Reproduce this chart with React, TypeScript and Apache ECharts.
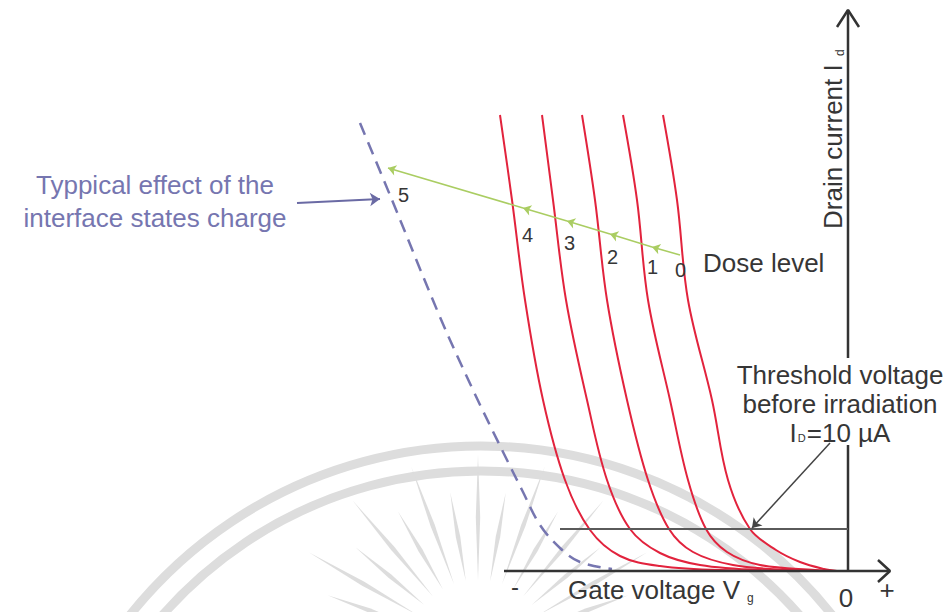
import React, { useEffect, useRef } from "react";
import * as echarts from "echarts";

// Gate voltage in dose-step units (0 at the drain-current axis), drain current in arbitrary units.
const doseLevels = ["0", "1", "2", "3", "4"];

const curveDose0: [number, number][] = [
  [-4.625, 45.6], [-4.275, 37.1], [-4.0, 27.1], [-3.4, 17.1], [-3.0, 9.1],
  [-2.45, 4.2], [-1.8, 2.1], [-1.2, 0.9], [-0.6, 0.2], [-0.275, 0],
];
const curveDose1: [number, number][] = [
  [-5.625, 45.6], [-5.275, 37.1], [-5.0, 27.1], [-4.45, 17.1], [-4.0, 9.1],
  [-3.55, 4.2], [-3.025, 1.9], [-2.2, 0.6], [-0.825, 0.1], [-0.275, 0],
];
const curveDose2: [number, number][] = [
  [-6.65, 45.6], [-6.325, 37.1], [-6.025, 27.1], [-5.525, 17.1], [-5.0, 9.1],
  [-4.475, 4.2], [-3.875, 1.9], [-2.875, 0.6], [-1.45, 0.1], [-0.275, 0],
];
const curveDose3: [number, number][] = [
  [-7.65, 45.6], [-7.375, 37.1], [-7.05, 27.1], [-6.525, 17.1], [-6.025, 9.1],
  [-5.45, 4.2], [-4.7, 1.8], [-3.7, 0.6], [-2.2, 0.1], [-0.275, 0],
];
const curveDose4: [number, number][] = [
  [-8.7, 45.6], [-8.4, 37.1], [-8.075, 27.1], [-7.625, 17.1], [-7.075, 9.1],
  [-6.45, 4.1], [-5.7, 1.5], [-4.7, 0.5], [-3.2, 0.1], [-0.275, 0],
];
const doseCurves = [curveDose0, curveDose1, curveDose2, curveDose3, curveDose4];

// Curve shifted by the interface-states charge (dose level 5)
const interfaceCurve: [number, number][] = [
  [-12.2, 44.8], [-11.4, 37.1], [-10.2, 25.4], [-9.375, 18.1], [-8.525, 11.1],
  [-8.15, 8.1], [-7.7, 4.6], [-7.2, 2.3], [-6.7, 0.9], [-5.9, 0.2],
];

// Dose-level arrow path, from curve 0 to curve 5
const doseArrowPath: [number, number][] = [
  [-4.2, 31.6], [-4.9, 32.4], [-5.95, 33.7], [-7.025, 35.0], [-8.125, 36.3], [-11.5, 40.3],
];

// Threshold current level and its pointer
const thresholdCurrent = 4.2;
const thresholdLineStart = -7.2;
const thresholdPointer: [number, number][] = [[-0.45, 12.8], [-2.4, 4.3]];
const interfacePointer: [number, number][] = [[-13.775, 36.8], [-11.7, 37.2]];

// Axis extents
const xAxisStart = -8.6;
const xAxisEnd = 1.05;
const yAxisEnd = 56.1;
const yAxisGap: [number, number] = [12.6, 21.3];

const FONT = "Liberation Sans";
const TEXT = "#363636";
const RED = "#e2233d";
const SLATE = "#7676b0";
const GREEN = "#aacd62";
const AXIS = "#333333";
const STAMP = "#dddddd";

function buildOption(): echarts.EChartsCoreOption {
  const curveSeries = doseCurves.map((data, i) => ({
    type: "line",
    name: "Dose " + doseLevels[i],
    data,
    smooth: 0.35,
    showSymbol: false,
    lineStyle: { color: RED, width: 2 },
    z: 3,
  }));

  const plain = (data: [number, number][], color: string, width: number, z = 4) => ({
    type: "line",
    data,
    showSymbol: false,
    lineStyle: { color, width },
    z,
  });

  const doseArrows = doseArrowPath.slice(0, -1).map((p, i) => ({
    coords: [p, doseArrowPath[i + 1]],
  }));

  // sunburst rays of the background stamp: thin spindles around a centre below the page
  const rays: any[] = [];
  const rc = { x: 478, y: 650 };
  let k = 0;
  for (let a = 190; a <= 350; a += 10, k++) {
    const rad = (a * Math.PI) / 180;
    const r1 = 70;
    const r2 = k % 2 === 0 ? 195 : 160;
    const rm = (r1 + r2) / 2;
    const nx = -Math.sin(rad);
    const ny = Math.cos(rad);
    const half = 2.2;
    rays.push({
      type: "polygon",
      silent: true,
      z: -10,
      shape: {
        points: [
          [rc.x + r1 * Math.cos(rad), rc.y + r1 * Math.sin(rad)],
          [rc.x + rm * Math.cos(rad) + half * nx, rc.y + rm * Math.sin(rad) + half * ny],
          [rc.x + r2 * Math.cos(rad), rc.y + r2 * Math.sin(rad)],
          [rc.x + rm * Math.cos(rad) - half * nx, rc.y + rm * Math.sin(rad) - half * ny],
        ],
      },
      style: { fill: STAMP },
    });
  }

  const txt = (
    x: number,
    y: number,
    text: string,
    opts: { size?: number; color?: string; align?: string; rotation?: number } = {}
  ) => ({
    type: "text",
    x,
    y,
    rotation: opts.rotation ?? 0,
    z: 20,
    style: {
      text,
      fontSize: opts.size ?? 26,
      fontFamily: FONT,
      fill: opts.color ?? TEXT,
      align: opts.align ?? "left",
      verticalAlign: "middle",
      textAlign: opts.align ?? "left",
      textVerticalAlign: "middle",
    },
  });

  const arc = (r: number) => ({
    type: "arc",
    silent: true,
    z: -10,
    shape: { cx: 481, cy: 895, r, startAngle: (200 * Math.PI) / 180, endAngle: (345 * Math.PI) / 180 },
    style: { stroke: STAMP, lineWidth: 9, fill: null },
  });

  return {
    animation: false,
    backgroundColor: "#ffffff",
    grid: { left: 0, right: 0, top: 0, bottom: 0, containLabel: false },
    xAxis: { type: "value", min: -21.2, max: 2.45, show: false },
    yAxis: { type: "value", min: -4.1, max: 57.1, show: false },
    series: [
      ...curveSeries,
      {
        type: "line",
        data: interfaceCurve,
        smooth: 0.35,
        showSymbol: false,
        lineStyle: { color: SLATE, width: 2.5, type: [13, 8] },
        z: 3,
      },
      plain([[xAxisStart, 0], [xAxisEnd, 0]], AXIS, 2.5),
      plain([[0.75, 1.1], [xAxisEnd, 0], [0.75, -1.1]], AXIS, 2.5),
      plain([[0, 0], [0, yAxisGap[0]]], AXIS, 2.5),
      plain([[0, yAxisGap[1]], [0, yAxisEnd]], AXIS, 2.5),
      plain([[-0.275, 54.4], [0, yAxisEnd], [0.275, 54.4]], AXIS, 2.5),
      plain([[thresholdLineStart, thresholdCurrent], [0, thresholdCurrent]], "#5a5a5a", 2),
      {
        type: "lines",
        coordinateSystem: "cartesian2d",
        data: doseArrows,
        symbol: ["none", "arrow"],
        symbolSize: 8,
        lineStyle: { color: GREEN, width: 1.5, opacity: 1 },
        z: 5,
      },
      {
        type: "lines",
        coordinateSystem: "cartesian2d",
        data: [{ coords: interfacePointer }],
        symbol: ["none", "arrow"],
        symbolSize: 10,
        lineStyle: { color: "#6a6aa4", width: 2, opacity: 1 },
        z: 5,
      },
      {
        type: "lines",
        coordinateSystem: "cartesian2d",
        data: [{ coords: thresholdPointer }],
        symbol: ["none", "arrow"],
        symbolSize: 9,
        lineStyle: { color: "#444444", width: 1.5, opacity: 1 },
        z: 5,
      },
    ],
    graphic: [
      arc(449),
      arc(424),
      ...rays,
      txt(155, 185, "Typpical effect of the", { color: SLATE, align: "center" }),
      txt(155, 218, "interface states charge", { color: SLATE, align: "center" }),
      txt(398, 195, "5", { size: 20 }),
      txt(522, 235, "4", { size: 20 }),
      txt(564, 243, "3", { size: 20 }),
      txt(607, 257, "2", { size: 20 }),
      txt(647, 267, "1", { size: 20 }),
      txt(675, 270, "0", { size: 20 }),
      txt(703, 263, "Dose level"),
      txt(833, 229, "Drain current I", { rotation: Math.PI / 2 }),
      txt(840, 56, "d", { size: 12, rotation: Math.PI / 2 }),
      {
        type: "text",
        x: 840,
        y: 404,
        z: 20,
        style: {
          text: "Threshold voltage\nbefore irradiation\n{m|I}{s|D}{m|=10 µA}",
          fontSize: 26,
          lineHeight: 29,
          fontFamily: FONT,
          fill: TEXT,
          align: "center",
          verticalAlign: "middle",
          textAlign: "center",
          textVerticalAlign: "middle",
          rich: {
            m: { fontSize: 26, fontFamily: FONT, fill: TEXT, lineHeight: 29 },
            s: { fontSize: 11, fontFamily: FONT, fill: TEXT, padding: [10, 1, 0, 1] },
          },
        },
      },
      txt(568, 590, "Gate voltage V"),
      txt(747, 598, "g", { size: 12 }),
      txt(511, 586, "-", { size: 24 }),
      txt(846, 598, "0", { align: "center" }),
      txt(887, 590, "+", { align: "center", size: 26 }),
    ],
  };
}

export default function App() {
  const ref = useRef<HTMLDivElement>(null);
  useEffect(() => {
    if (!ref.current) return;
    const chart = echarts.init(ref.current, undefined, { renderer: "svg" });
    chart.setOption(buildOption());
    return () => chart.dispose();
  }, []);
  return (
    <div
      ref={ref}
      style={{ position: "fixed", left: 0, top: 0, width: 946, height: 612, background: "#fff" }}
    />
  );
}
